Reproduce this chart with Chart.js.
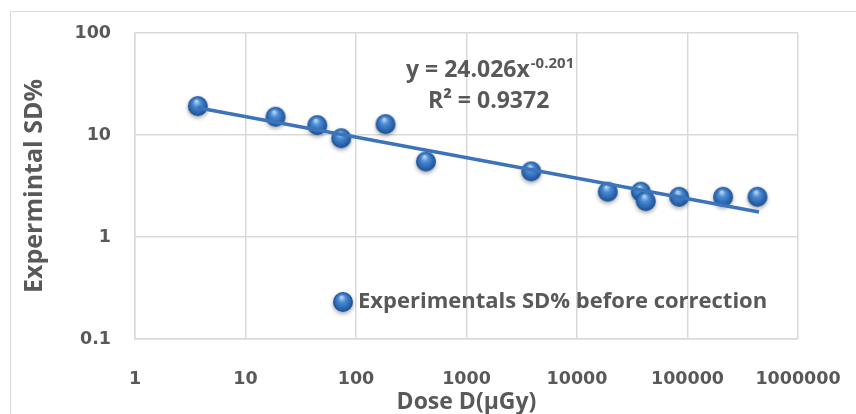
<!DOCTYPE html>
<html lang="en">
<head>
<meta charset="UTF-8">
<title>SD% vs Dose</title>
<script src="https://cdn.jsdelivr.net/npm/chart.js"></script>
<style>
  html, body { margin: 0; padding: 0; background: #fff; overflow: hidden; }
  #wrap { width: 856px; height: 414px; }
</style>
</head>
<body>
<div id="wrap"><canvas id="myChart"></canvas></div>
<script>
// values
const doseX = [3.7, 18.7, 44.6, 73.5, 185, 429, 3850, 19000, 37800, 41900, 84000, 210000, 430000];
const sdY   = [19.2, 15.1, 12.5, 9.3, 12.8, 5.5, 4.4, 2.78, 2.78, 2.25, 2.48, 2.48, 2.48];
// trendline end points (power fit shown on chart)
const trendX = [3.7, 444000];
const trendY = [18.5, 1.76];
const xTicks = [1, 10, 100, 1000, 10000, 100000, 1000000];
const yTicks = [0.1, 1, 10, 100];
const seriesName = 'Experimentals SD% before correction';
const eqMain = 'y = 24.026x';
const eqExp = '-0.201';
const eqR2 = 'R² = 0.9372';

const textColor = '#595959';
const gridColor = '#d9d9d9';
const fontFam = '"Open Sans", sans-serif';
const tickFam = '"DejaVu Sans", sans-serif';

// little shaded ball used as marker
function makeSphere(r) {
    const pad = 6;
    const c = document.createElement('canvas');
    c.width = c.height = 2 * (r + pad);
    const g = c.getContext('2d');
    const cx = r + pad, cy = r + pad;
    g.shadowColor = 'rgba(0,0,0,0.35)';
    g.shadowBlur = 4;
    g.shadowOffsetY = 2;
    g.beginPath();
    g.arc(cx, cy, r, 0, Math.PI * 2);
    const grad = g.createRadialGradient(cx - r * 0.15, cy - r * 0.5, 0.5, cx, cy, r);
    grad.addColorStop(0, '#b9d7f5');
    grad.addColorStop(0.35, '#4a8cd4');
    grad.addColorStop(0.8, '#2862ab');
    grad.addColorStop(1, '#1d4f8e');
    g.fillStyle = grad;
    g.fill();
    return c;
}
const ball = makeSphere(10);

const pointsData = doseX.map((x, i) => ({x: x, y: sdY[i]}));
const trendData = trendX.map((x, i) => ({x: x, y: trendY[i]}));

const extras = {
    id: 'extras',
    beforeDraw(chart) {
        const ctx = chart.ctx;
        ctx.save();
        ctx.strokeStyle = gridColor;
        ctx.lineWidth = 1;
        ctx.strokeRect(10.5, 11.5, 900, 500);
        ctx.restore();
    },
    afterDraw(chart) {
        const ctx = chart.ctx;
        const a = chart.chartArea;
        ctx.save();
        ctx.fillStyle = textColor;
        ctx.textBaseline = 'alphabetic';
        ctx.textAlign = 'left';
        // equation
        ctx.font = 'bold 23px ' + fontFam;
        const ex = a.left + 271, ey = a.top + 44;
        ctx.fillText(eqMain, ex, ey);
        const w = ctx.measureText(eqMain).width;
        ctx.font = 'bold 15px ' + fontFam;
        ctx.fillText(eqExp, ex + w + 1, ey - 9);
        ctx.font = 'bold 23px ' + fontFam;
        ctx.fillText(eqR2, a.left + 293, a.top + 75);
        // legend inside plot
        const lx = a.left + 208, ly = a.bottom - 37;
        ctx.drawImage(ball, lx - ball.width / 2, ly - ball.height / 2);
        ctx.font = 'bold 22px ' + fontFam;
        ctx.textBaseline = 'middle';
        ctx.fillText(seriesName, lx + 15, ly);
        ctx.restore();
    }
};

const ctx = document.getElementById('myChart').getContext('2d');
new Chart(ctx, {
    type: 'scatter',
    data: {
        datasets: [
            {
                label: 'Power trend',
                type: 'line',
                data: trendData,
                borderColor: '#3c73ba',
                borderWidth: 3.5,
                pointRadius: 0,
                fill: false,
                order: 0
            },
            {
                label: seriesName,
                data: pointsData,
                pointStyle: ball,
                pointRadius: 10,
                order: 1
            }
        ]
    },
    options: {
        responsive: true,
        maintainAspectRatio: false,
        animation: false,
        layout: { padding: { left: 0, top: 33, right: 58, bottom: 0 } },
        plugins: {
            legend: { display: false },
            tooltip: { enabled: false }
        },
        scales: {
            x: {
                type: 'logarithmic',
                min: 1,
                max: 1000000,
                afterBuildTicks: s => { s.ticks = xTicks.map(v => ({value: v})); },
                afterFit: s => { s.height = 75; },
                grid: { color: gridColor, lineWidth: 1.5, drawTicks: true, tickLength: 27, tickColor: 'rgba(0,0,0,0)' },
                border: { color: gridColor, width: 1.5 },
                ticks: {
                    padding: 3,
                    color: textColor,
                    font: { family: tickFam, size: 17.5, weight: 'bold' },
                    maxRotation: 0,
                    autoSkip: false,
                    callback: v => String(v)
                },
                title: {
                    display: true,
                    text: 'Dose D(µGy)',
                    color: textColor,
                    font: { family: fontFam, size: 23, weight: 'bold', lineHeight: 1 },
                    padding: { top: 0, bottom: 0 }
                }
            },
            y: {
                type: 'logarithmic',
                min: 0.1,
                max: 100,
                afterBuildTicks: s => { s.ticks = yTicks.map(v => ({value: v})); },
                afterFit: s => { s.width = 135; },
                grid: { color: gridColor, lineWidth: 1.5, drawTicks: true, tickLength: 21, tickColor: 'rgba(0,0,0,0)' },
                border: { color: gridColor, width: 1.5 },
                ticks: {
                    padding: 3,
                    color: textColor,
                    font: { family: tickFam, size: 17.5, weight: 'bold' },
                    autoSkip: false,
                    callback: v => String(v)
                },
                title: {
                    display: true,
                    text: 'Expermintal SD%',
                    color: textColor,
                    font: { family: fontFam, size: 25, weight: 'bold', lineHeight: 1.2 },
                    padding: { top: 20, bottom: 0 }
                }
            }
        }
    },
    plugins: [extras]
});
</script>
</body>
</html>
